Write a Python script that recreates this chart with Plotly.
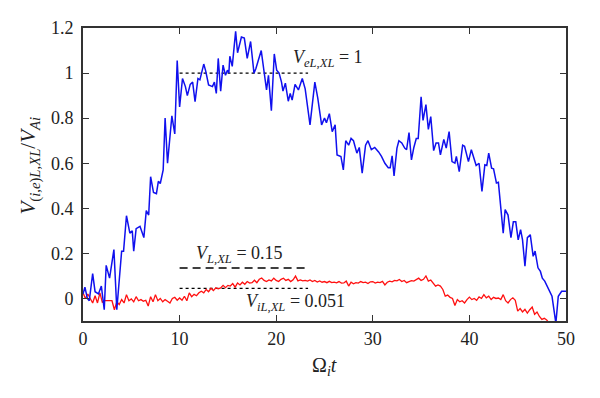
import numpy as np
import plotly.graph_objects as go

# ---- data ----
t_e = [0.0, 0.2, 0.45, 0.65, 1.0, 1.25, 1.6, 1.9, 2.2, 2.4, 2.75, 3.2, 3.5, 4.0, 4.2, 4.5, 4.85, 5.1, 5.25, 5.5,
       5.9, 6.3, 6.55, 6.8, 7.0, 7.3, 7.6, 7.8, 8.0, 8.3, 8.5, 8.75, 9.2, 9.5, 9.75, 10.0, 10.3, 10.6, 10.8, 11.1,
       11.35, 11.6, 11.9, 12.1, 12.5, 12.7, 13.0, 13.4, 13.6, 13.8, 14.0, 14.25, 14.5, 14.75, 14.95, 15.1, 15.2,
       15.45, 15.8, 16.0, 16.4, 16.7, 17.0, 17.35, 17.7, 17.9, 18.45, 18.75, 19.0, 19.2, 19.5, 19.8, 20.05, 20.3,
       20.55, 20.7, 20.95, 21.25, 21.45, 21.65, 21.95, 22.3, 22.7, 23.0, 23.5, 24.0, 24.3, 24.7, 25.0, 25.2, 25.5,
       25.8, 26.1, 26.3, 26.7, 26.95, 27.2, 27.5, 27.75, 28.0, 28.35, 28.6, 28.9, 29.25, 29.5, 29.85, 30.2, 30.6,
       30.9, 31.25, 31.6, 31.8, 32.0, 32.2, 32.5, 32.7, 33.0, 33.3, 33.5, 33.75, 34.0, 34.25, 34.5, 34.7, 35.0,
       35.2, 35.5, 35.75, 36.0, 36.3, 36.55, 36.8, 37.0, 37.35, 37.6, 37.9, 38.2, 38.5, 38.65, 38.95, 39.3, 39.5,
       39.9, 40.2, 40.5, 40.7, 41.0, 41.3, 41.6, 41.8, 42.0, 42.3, 42.5, 42.8, 43.0, 43.2, 43.5, 43.7, 44.0, 44.3,
       44.55, 44.8, 45.05, 45.3, 45.5, 45.75, 46.0, 46.3, 46.6, 46.8, 47.1, 47.35, 47.55, 47.8, 48.1, 48.35, 48.55,
       48.95, 49.2, 49.55, 50.0]
v_e = [0.02, 0.05, 0.0, -0.01, 0.11, 0.03, 0.02, 0.055, -0.05, 0.147, 0.09, 0.217, -0.05, 0.21, 0.21, 0.367, 0.29,
       0.30, 0.21, 0.31, 0.32, 0.27, 0.39, 0.37, 0.54, 0.47, 0.465, 0.52, 0.51, 0.57, 0.80, 0.60, 0.81, 0.73, 1.056,
       0.85, 0.976, 0.94, 0.90, 0.95, 0.96, 0.873, 0.976, 0.97, 1.04, 1.01, 0.947, 0.94, 0.96, 0.91, 1.065, 0.92,
       1.035, 0.99, 1.013, 1.0, 1.075, 1.03, 1.185, 1.09, 1.16, 1.155, 1.065, 1.14, 1.0, 1.02, 1.10, 0.99, 0.925,
       0.99, 0.833, 1.085, 1.013, 1.0, 0.96, 0.92, 0.955, 0.875, 0.91, 0.88, 0.95, 0.925, 0.976, 0.93, 0.77, 0.96,
       0.89, 0.77, 0.80, 0.78, 0.82, 0.74, 0.77, 0.637, 0.63, 0.57, 0.70, 0.68, 0.71, 0.70, 0.645, 0.67, 0.556,
       0.68, 0.70, 0.66, 0.67, 0.65, 0.63, 0.60, 0.58, 0.58, 0.633, 0.544, 0.667, 0.70, 0.69, 0.667, 0.66, 0.736,
       0.615, 0.67, 0.71, 0.71, 0.895, 0.79, 0.86, 0.75, 0.807, 0.656, 0.69, 0.69, 0.637, 0.706, 0.667, 0.74,
       0.607, 0.60, 0.63, 0.563, 0.68, 0.675, 0.607, 0.66, 0.62, 0.59, 0.60, 0.475, 0.593, 0.59, 0.645, 0.578,
       0.575, 0.512, 0.515, 0.42, 0.29, 0.394, 0.37, 0.27, 0.34, 0.34, 0.26, 0.305, 0.26, 0.143, 0.27, 0.283,
       0.187, 0.21, 0.136, 0.12, 0.09, 0.077, 0.047, 0.03, 0.01, -0.11, 0.01, 0.032, 0.032]

t_i = [i * 0.25 for i in range(201)]
v_i = [0.025, 0.0, 0.02, 0.0, -0.02, 0.012, -0.02, 0.025, -0.017, -0.01, -0.01, -0.012, -0.01, -0.05, -0.015,
       -0.027, -0.005, -0.02, 0.017, -0.01,
       -0.002, -0.015, 0.008, -0.01, -0.005, -0.012, -0.008, -0.034, 0.008, -0.015, 0.017, -0.01, 0.0, -0.015,
       -0.005, -0.012, -0.02, 0.0, 0.005, -0.008,
       0.002, -0.008, 0.01, -0.01, 0.025, 0.008, 0.018, 0.012, 0.025, 0.032, 0.025, 0.04, 0.03, 0.045, 0.035,
       0.047, 0.043, 0.047, 0.058, 0.048,
       0.058, 0.055, 0.066, 0.05, 0.069, 0.06, 0.072, 0.063, 0.075, 0.068, 0.07, 0.081, 0.07, 0.085, 0.091, 0.08,
       0.075, 0.082, 0.078, 0.09,
       0.08, 0.075, 0.085, 0.09, 0.08, 0.085, 0.075, 0.083, 0.099, 0.078, 0.082, 0.078, 0.08, 0.077, 0.082, 0.075,
       0.08, 0.073, 0.078, 0.072,
       0.075, 0.07, 0.076, 0.07, 0.072, 0.069, 0.075, 0.068, 0.069, 0.077, 0.055, 0.072, 0.065, 0.07, 0.068, 0.075,
       0.07, 0.072, 0.066, 0.074,
       0.075, 0.068, 0.072, 0.07, 0.076, 0.06, 0.072, 0.077, 0.074, 0.08, 0.078, 0.084, 0.075, 0.08, 0.07, 0.075,
       0.079, 0.077, 0.083, 0.09,
       0.08, 0.085, 0.1, 0.077, 0.082, 0.07, 0.055, 0.06, 0.055, 0.04, 0.01, 0.015, 0.005, 0.0, -0.031, -0.005,
       -0.015, -0.01, -0.02, -0.005,
       0.006, -0.005, 0.0, -0.008, 0.007, 0.0, 0.017, 0.003, 0.01, -0.005, 0.005, 0.0, 0.002, -0.005, 0.017, -0.01,
       -0.02, -0.005, 0.003, -0.008,
       -0.056, -0.045, -0.06, -0.048, -0.065, -0.05, -0.038, -0.07, -0.06, -0.08, -0.093, -0.088, -0.095, -0.11,
       -0.11, -0.11, -0.11, -0.11, -0.11, -0.11,
       -0.11]

# reference levels (as drawn) and their time extents
level_e = 1.0
level_l = 0.135
level_i = 0.045
level_t = [10, 23.3]

x_ticks = [0, 10, 20, 30, 40, 50]
y_ticks = [0, 0.2, 0.4, 0.6, 0.8, 1.0, 1.2]
y_ticklabels = ["0", "0.2", "0.4", "0.6", "0.8", "1", "1.2"]

FONT = "'Liberation Serif', 'Times New Roman', Times, serif"
fig = go.Figure()
fig.add_trace(go.Scatter(x=level_t, y=[level_e] * 2, mode="lines",
                         line=dict(color="black", width=1.3, dash="dot")))
fig.add_trace(go.Scatter(x=level_t, y=[level_l] * 2, mode="lines",
                         line=dict(color="black", width=1.6, dash="8px,5px")))
fig.add_trace(go.Scatter(x=level_t, y=[level_i] * 2, mode="lines",
                         line=dict(color="black", width=1.3, dash="dot")))
fig.add_trace(go.Scatter(x=t_i, y=v_i, mode="lines", line=dict(color="#ff1010", width=1.3)))
fig.add_trace(go.Scatter(x=t_e, y=v_e, mode="lines", line=dict(color="#1010ee", width=1.5)))

ann_font = dict(family=FONT, size=18, color="#222")
fig.add_annotation(x=25.4, y=1.065, xref="x", yref="y", showarrow=False, font=ann_font,
                   text="<i>V</i><sub><i>eL</i>,<i>XL</i></sub> = 1")
fig.add_annotation(x=16.2, y=0.195, xref="x", yref="y", showarrow=False, font=ann_font,
                   text="<i>V</i><sub><i>L</i>,<i>XL</i></sub> = 0.15")
fig.add_annotation(x=22.0, y=-0.02, xref="x", yref="y", showarrow=False, font=ann_font,
                   text="<i>V</i><sub><i>iL</i>,<i>XL</i></sub> = 0.051")
fig.add_annotation(x=-0.11, y=0.53, xref="paper", yref="paper", xanchor="center", yanchor="middle",
                   showarrow=False, textangle=-90,
                   font=dict(family=FONT, size=21, color="#222"),
                   text="<i>V</i><sub>(<i>i</i>,<i>e</i>)<i>L</i>,<i>XL</i></sub>/<i>V</i><sub><i>Ai</i></sub>")
fig.add_annotation(x=0.5, y=-0.155, xref="paper", yref="paper", xanchor="center", yanchor="middle",
                   showarrow=False,
                   font=dict(family=FONT, size=20, color="#222"),
                   text="Ω<sub><i>i</i></sub><i>t</i>")

axis_common = dict(showline=True, linecolor="#333", linewidth=1.8, mirror="ticks", ticks="inside",
                   ticklen=6, tickwidth=1.3, tickcolor="#333", showgrid=False, zeroline=False,
                   tickfont=dict(family=FONT, size=18, color="#222"))
fig.update_xaxes(range=[0, 50], tickvals=x_ticks, **axis_common)
fig.update_yaxes(range=[-0.1, 1.2], tickvals=y_ticks, ticktext=y_ticklabels, ticklabelstandoff=4, **axis_common)
fig.update_layout(width=600, height=398, margin=dict(l=83, r=34, t=28, b=77),
                  plot_bgcolor="white", paper_bgcolor="white", showlegend=False)
fig.write_html("out.html", config={"displayModeBar": False},
               post_script="document.body.style.margin='0';")
